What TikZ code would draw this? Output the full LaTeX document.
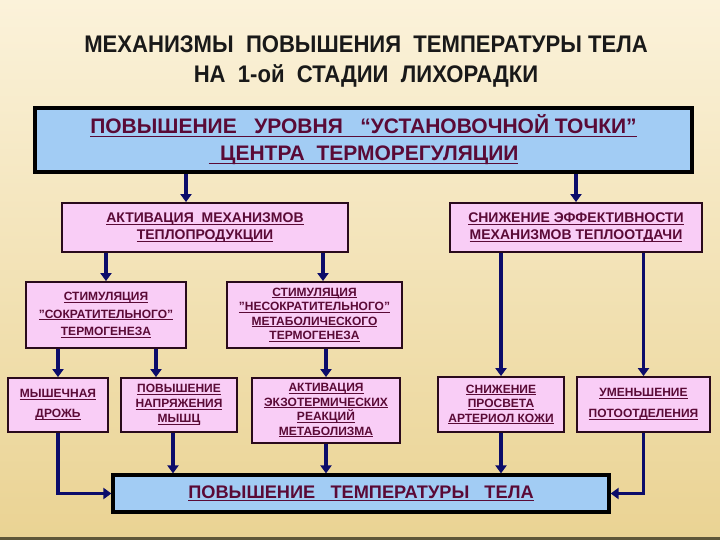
\documentclass[tikz,border=0pt]{standalone}
\usepackage{fontspec}
\setmainfont{Liberation Sans}
\newfontfamily\ttlfont[FakeStretch=0.92]{Liberation Sans}
\usepackage{tikz}
\usetikzlibrary{arrows.meta,positioning,calc,backgrounds}
\definecolor{cTxt}{HTML}{5A0A36}
\definecolor{cPink}{HTML}{F9CDF6}
\definecolor{cBlue}{HTML}{A2CCF4}
\definecolor{cEdge}{HTML}{2A0A1C}
\definecolor{cNavy}{HTML}{0C0C6A}
\definecolor{cTop}{HTML}{FBF2DA}
\definecolor{cLow}{HTML}{EAD393}
\definecolor{cRim}{HTML}{5E5638}
\newsavebox\ulbox
\newcommand\uln[1]{\sbox\ulbox{#1}\rlap{\rule[-0.16em]{\wd\ulbox}{0.08em}}\usebox\ulbox}
\newcommand\sq{\symbol{34}}
\tikzset{
  >={Triangle[width=11pt,length=8pt]},
  box/.style ={draw=cEdge,line width=1.8pt,fill=cPink,text=cTxt,align=center,
               inner sep=2pt,font=\bfseries\fontsize{12}{15}\selectfont},
  bbox/.style={box,draw=black,line width=3.2pt,fill=cBlue},
  ttl/.style ={align=center,text=black!90,font=\ttlfont\bfseries\fontsize{24}{30}\selectfont},
  ar/.style  ={->,line width=3.6pt,cNavy},
}
\begin{document}
\begin{tikzpicture}[x=1pt,y=-1pt]
\useasboundingbox (0,0) rectangle (720,540);
\begin{scope}[on background layer]
\shade[top color=cTop,bottom color=cLow] (0,0) rectangle (720,540);
\fill[cRim] (0,536.5) rectangle (720,540);
\end{scope}

\node[ttl] (ttl) at (366,62) {МЕХАНИЗМЫ~~ПОВЫШЕНИЯ~~ТЕМПЕРАТУРЫ ТЕЛА\\НА~~1-ой~~СТАДИИ~~ЛИХОРАДКИ};

\node[bbox,minimum width=657pt,minimum height=64pt,font=\bfseries\fontsize{21}{27}\selectfont]
  (top) at (363.5,140) {\uln{ПОВЫШЕНИЕ~~~УРОВНЯ~~~“УСТАНОВОЧНОЙ ТОЧКИ”}\\\uln{~~ЦЕНТРА~~ТЕРМОРЕГУЛЯЦИИ}};

% heat production / heat loss
\node[box,minimum width=286pt,minimum height=49pt,font=\bfseries\fontsize{14}{17}\selectfont]
  (act) at (205,227.5) {\uln{АКТИВАЦИЯ~~МЕХАНИЗМОВ}\\\uln{ТЕПЛОПРОДУКЦИИ}};
\node[box,minimum width=252pt,minimum height=49pt,font=\bfseries\fontsize{14}{17}\selectfont]
  (sniz) at (576,227.5) {\uln{СНИЖЕНИЕ ЭФФЕКТИВНОСТИ}\\\uln{МЕХАНИЗМОВ ТЕПЛООТДАЧИ}};

\node[box,minimum width=160pt,minimum height=66pt,font=\bfseries\fontsize{12}{17.5}\selectfont]
  (stimS) at (106,315) {\uln{СТИМУЛЯЦИЯ}\\\uln{\sq СОКРАТИТЕЛЬНОГО\sq}\\\uln{ТЕРМОГЕНЕЗА}};
\node[box,minimum width=175pt,minimum height=66pt,font=\bfseries\fontsize{12}{14.5}\selectfont]
  (stimN) at (314.5,315) {\uln{СТИМУЛЯЦИЯ}\\\uln{\sq НЕСОКРАТИТЕЛЬНОГО\sq}\\\uln{МЕТАБОЛИЧЕСКОГО}\\\uln{ТЕРМОГЕНЕЗА}};

\node[box,minimum width=100pt,minimum height=54pt,font=\bfseries\fontsize{12}{20}\selectfont]
  (drozh) at (58,405) {\uln{МЫШЕЧНАЯ}\\\uln{ДРОЖЬ}};
\node[box,minimum width=116pt,minimum height=54pt]
  (napr) at (179,405) {\uln{ПОВЫШЕНИЕ}\\\uln{НАПРЯЖЕНИЯ}\\\uln{МЫШЦ}};
\node[box,minimum width=148pt,minimum height=65pt,font=\bfseries\fontsize{12}{14.5}\selectfont]
  (exo) at (326,410.5) {\uln{АКТИВАЦИЯ}\\\uln{ЭКЗОТЕРМИЧЕСКИХ}\\\uln{РЕАКЦИЙ}\\\uln{МЕТАБОЛИЗМА}};
\node[box,minimum width=126pt,minimum height=55pt,font=\bfseries\fontsize{12}{14.5}\selectfont]
  (prosv) at (501,404.5) {\uln{СНИЖЕНИЕ}\\\uln{ПРОСВЕТА}\\\uln{АРТЕРИОЛ КОЖИ}};
\node[box,minimum width=133pt,minimum height=55pt,font=\bfseries\fontsize{12}{21}\selectfont]
  (pot) at (643.5,404.5) {\uln{УМЕНЬШЕНИЕ}\\\uln{ПОТООТДЕЛЕНИЯ}};

\node[bbox,minimum width=496pt,minimum height=37pt,font=\bfseries\fontsize{18.2}{22}\selectfont]
  (res) at (361,493.5) {\uln{ПОВЫШЕНИЕ~~~ТЕМПЕРАТУРЫ~~~ТЕЛА}};

\draw[ar] ([xshift=-19pt]act.north |- top.south) -- ([xshift=-19pt]act.north);
\draw[ar] (top.south -| sniz.north) -- (sniz.north);

\draw[ar] (act.south -| stimS.north) -- (stimS.north);
\draw[ar] ([xshift=8.5pt]stimN.north |- act.south) -- ([xshift=8.5pt]stimN.north);
\draw[ar] (stimS.south -| drozh.north) -- (drozh.north);
\draw[ar] ([xshift=-23pt]napr.north |- stimS.south) -- ([xshift=-23pt]napr.north);
\draw[ar] (stimN.south -| exo.north) -- (exo.north);

\draw[ar] (sniz.south -| prosv.north) -- (prosv.north);
\draw[ar] (sniz.south -| pot.north) -- (pot.north);

\draw[ar] (drozh.south) |- (res.west);
\draw[ar] ([xshift=-6pt]napr.south) -- ([xshift=-6pt]napr.south |- res.north);
\draw[ar] (exo.south) -- (exo.south |- res.north);
\draw[ar] (prosv.south) -- (prosv.south |- res.north);
\draw[ar] (pot.south) |- (res.east);
\end{tikzpicture}
\end{document}
